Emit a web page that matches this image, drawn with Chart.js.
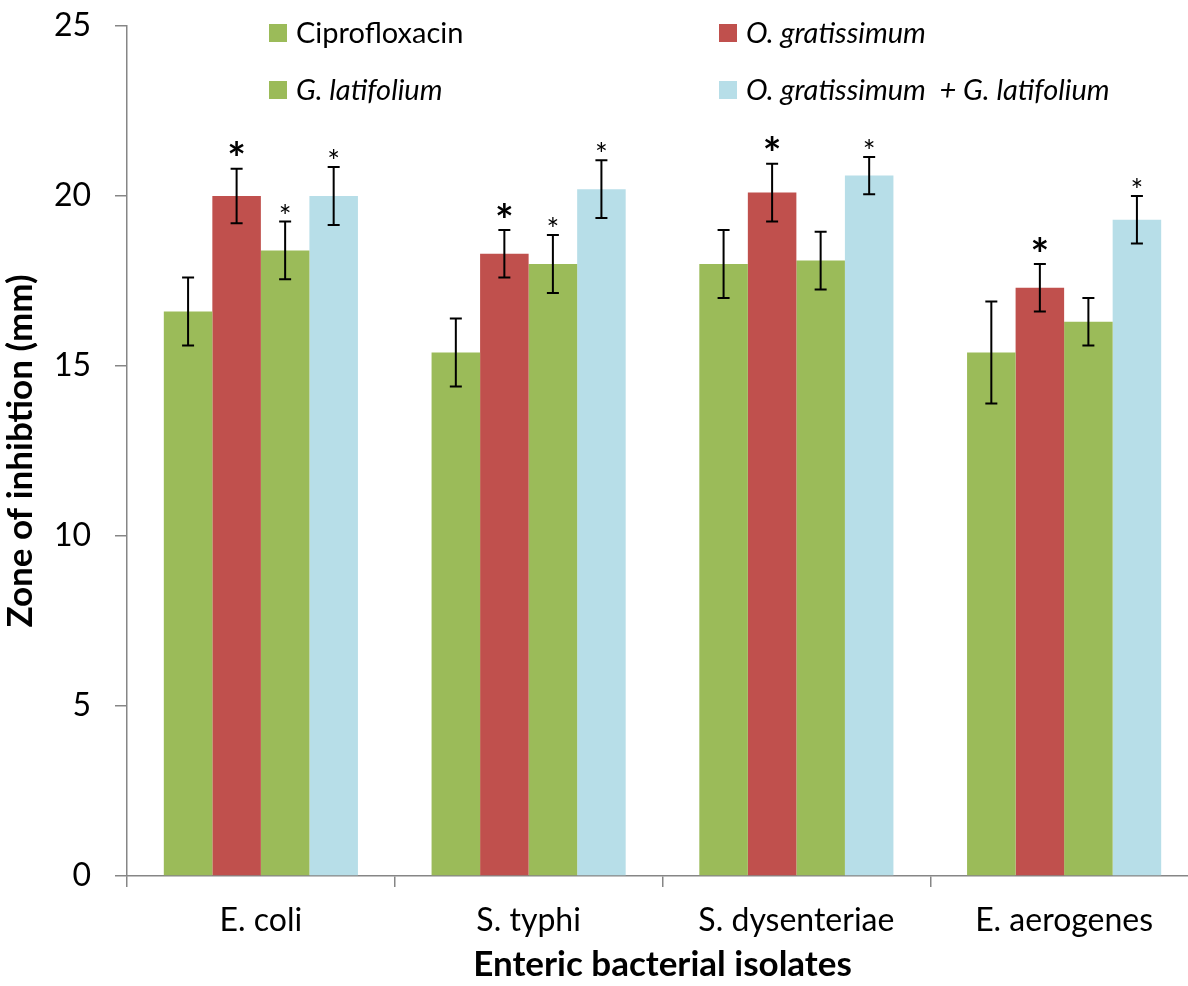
<!DOCTYPE html>
<html>
<head>
<meta charset="utf-8">
<script src="https://cdn.jsdelivr.net/npm/chart.js@4"></script>
<style>
  body { margin: 0; overflow: hidden; background: #fff; }
  #wrap { width: 1200px; height: 986px; }
</style>
</head>
<body>
<div id="wrap"><canvas id="myChart"></canvas></div>
<script>
const categories = ["E. coli", "S. typhi", "S. dysenteriae", "E. aerogenes"];

const cipro = [16.6, 15.4, 18.0, 15.4];
const ciproErr = [1.0, 1.0, 1.0, 1.5];
const ogr = [20.0, 18.3, 20.1, 17.3];
const ogrErr = [0.8, 0.7, 0.85, 0.7];
const glat = [18.4, 18.0, 18.1, 16.3];
const glatErr = [0.85, 0.85, 0.85, 0.7];
const combo = [20.0, 20.2, 20.6, 19.3];
const comboErr = [0.85, 0.85, 0.55, 0.7];

// significance marks (*) per bar
const ciproSig = [false, false, false, false];
const ogrSig = [true, true, true, true];
const glatSig = [true, true, false, false];
const comboSig = [true, true, true, true];

const yTicks = [0, 5, 10, 15, 20, 25];

Chart.defaults.font.family = "Lato, 'Open Sans', sans-serif";
Chart.defaults.color = "#000";

// error bars + asterisks
const errorBars = {
  id: "errorBars",
  afterDatasetsDraw(chart) {
    const ctx = chart.ctx;
    const y = chart.scales.y;
    chart.data.datasets.forEach((ds, di) => {
      const meta = chart.getDatasetMeta(di);
      meta.data.forEach((bar, i) => {
        const v = ds.data[i];
        const e = ds.err[i];
        const top = y.getPixelForValue(v + e);
        const bot = y.getPixelForValue(v - e);
        ctx.save();
        ctx.strokeStyle = "#000";
        ctx.lineWidth = 2;
        ctx.beginPath();
        ctx.moveTo(bar.x, top);
        ctx.lineTo(bar.x, bot);
        ctx.moveTo(bar.x - 6, top);
        ctx.lineTo(bar.x + 6, top);
        ctx.moveTo(bar.x - 6, bot);
        ctx.lineTo(bar.x + 6, bot);
        ctx.stroke();

        if (ds.sig[i]) {
          ctx.fillStyle = "#000";
          ctx.font = ds.bigStar ? "bold 44px Lato" : "30px Lato";
          ctx.textAlign = "center";
          ctx.textBaseline = "alphabetic";
          const m = ctx.measureText("*");
          const center = top - (ds.bigStar ? 20 : 13);
          const off = (m.actualBoundingBoxAscent - m.actualBoundingBoxDescent) / 2;
          ctx.fillText("*", bar.x, center + off);
        }
        ctx.restore();
      });
    });
  }
};

// two-column legend inside the plot
const boxLegend = {
  id: "boxLegend",
  afterDraw(chart) {
    const ctx = chart.ctx;
    const cols = [269, 719];
    const rows = [33, 90];
    chart.data.datasets.forEach((ds, i) => {
      const x = cols[i % 2];
      const yc = rows[Math.floor(i / 2)];
      ctx.save();
      ctx.fillStyle = ds.backgroundColor;
      ctx.fillRect(x, yc - 9, 18, 18);
      ctx.fillStyle = "#000";
      ctx.font = (ds.italic ? "italic " : "") + "29px Lato";
      ctx.textAlign = "left";
      ctx.textBaseline = "middle";
      ctx.fillText(ds.label, x + 27, yc + 1);
      ctx.restore();
    });
  }
};

const ctx = document.getElementById("myChart").getContext("2d");
const myChart = new Chart(ctx, {
  type: "bar",
  data: {
    labels: categories,
    datasets: [
      { label: "Ciprofloxacin", data: cipro, err: ciproErr, sig: ciproSig, backgroundColor: "#9BBB59", italic: false, bigStar: false },
      { label: "O. gratissimum", data: ogr, err: ogrErr, sig: ogrSig, backgroundColor: "#C0504D", italic: true, bigStar: true },
      { label: "G. latifolium", data: glat, err: glatErr, sig: glatSig, backgroundColor: "#9BBB59", italic: true, bigStar: false },
      { label: "O. gratissimum  + G. latifolium", data: combo, err: comboErr, sig: comboSig, backgroundColor: "#B7DEE8", italic: true, bigStar: false },
    ],
  },
  options: {
    responsive: true,
    maintainAspectRatio: false,
    animation: false,
    layout: { padding: { top: 26, right: 2, left: 0, bottom: 0 } },
    datasets: {
      bar: { categoryPercentage: 0.725, barPercentage: 1.0 },
    },
    plugins: {
      legend: { display: false },
      tooltip: { enabled: false },
    },
    scales: {
      x: {
        offset: true,
        grid: {
          offset: true,
          drawOnChartArea: false,
          drawTicks: true,
          tickLength: 11,
          color: "#868686",
          lineWidth: 1.5,
        },
        border: { color: "#868686", width: 1.5 },
        ticks: { font: { size: 32 }, padding: 14, color: "#000" },
        title: {
          display: true,
          text: "Enteric bacterial isolates",
          font: { size: 35, weight: "bold" },
          padding: { top: 0, bottom: 0 },
        },
        afterFit(scale) {
          scale.height = 110;
          scale.paddingLeft = 0;
          scale.paddingRight = 0;
        },
      },
      y: {
        min: 0,
        max: 25,
        afterBuildTicks(scale) { scale.ticks = yTicks.map((v) => ({ value: v })); },
        grid: {
          drawOnChartArea: false,
          drawTicks: true,
          tickLength: 12,
          color: "#868686",
          lineWidth: 1.5,
        },
        border: { color: "#868686", width: 1.5 },
        ticks: { font: { size: 32 }, padding: 24, color: "#000" },
        title: {
          display: true,
          text: "Zone of inhibtion (mm)",
          font: { size: 35, weight: "bold" },
          padding: { top: 0, bottom: 0 },
        },
        afterFit(scale) {
          scale.width = 127;
          scale.paddingTop = 0;
          scale.paddingBottom = 0;
        },
      },
    },
  },
  plugins: [errorBars, boxLegend],
});
</script>
</body>
</html>
